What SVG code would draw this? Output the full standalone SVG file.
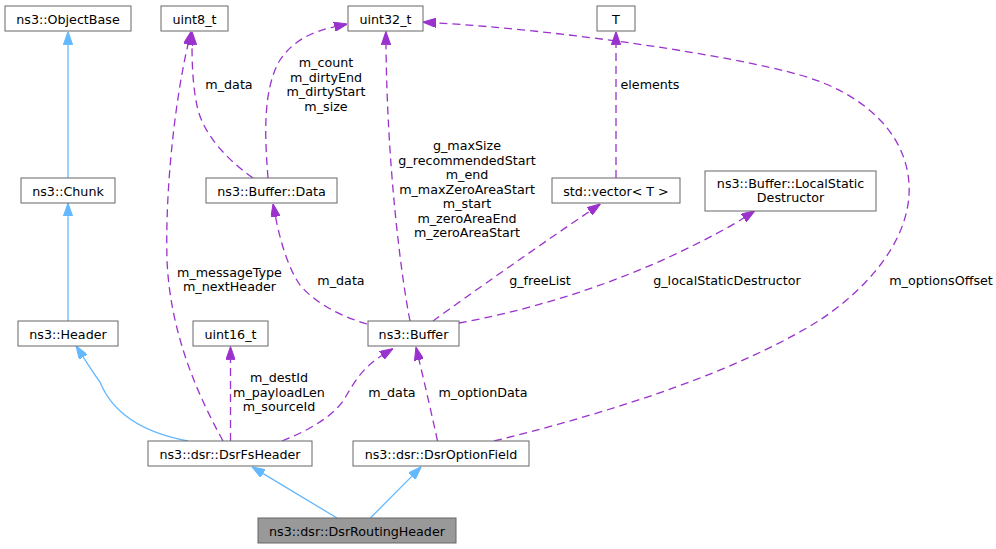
<svg xmlns="http://www.w3.org/2000/svg" width="996" height="549" viewBox="0 0 996 549">
<style>
.n rect{fill:#ffffff;stroke:#666666;stroke-width:1}
.n.root rect{fill:#999999}
text{font-family:"DejaVu Sans","Liberation Sans",sans-serif;font-size:12.7px;fill:#000000}
.n text{text-anchor:middle}
.lbl{text-anchor:middle}
.inh{fill:none;stroke:#63b8ff;stroke-width:1.3;marker-end:url(#ai)}
.mem{fill:none;stroke:#9a32cd;stroke-width:1.3;stroke-dasharray:8,5;marker-end:url(#am)}
</style>
<defs>
<marker id="ai" viewBox="0 0 13.3 9.34" refX="0" refY="4.67" markerWidth="13.3" markerHeight="9.34" markerUnits="userSpaceOnUse" orient="auto">
<path d="M0,0 L13.3,4.67 L0,9.34 Z" fill="#63b8ff" stroke="#63b8ff" stroke-width="1"/>
</marker>
<marker id="am" viewBox="0 0 13.3 9.34" refX="0" refY="4.67" markerWidth="13.3" markerHeight="9.34" markerUnits="userSpaceOnUse" orient="auto">
<path d="M0,0 L13.3,4.67 L0,9.34 Z" fill="#9a32cd" stroke="#9a32cd" stroke-width="1"/>
</marker>
</defs>

<g id="edges">
<path class="inh" d="M68,178 L68,44.8"/>
<path class="inh" d="M68,321 L68,216.3"/>
<path class="inh" d="M188,441 C140,432 112,412 100,382 C94,374 89,366 83.2,357"/>
<path class="inh" d="M337,518 L263.2,473.6"/>
<path class="inh" d="M370.4,518 L412,476.1"/>

<path class="mem" d="M223,441 C195,390 170,330 167,260 C165,190 175,100 188,44.5"/>
<path class="mem" d="M253,178 C225,158 205,135 198,110 C193,90 192,65 192,44.8"/>
<path class="mem" d="M268,178 C265,140 262,90 280,60 C292,42 310,32 334.4,26.8"/>
<path class="mem" d="M410,321 C400,270 387,160 386,44.8"/>
<path class="mem" d="M367,324 C340,316 315,303 300,285 C288,268 280,240 275.5,216.7"/>
<path class="mem" d="M433,321 C470,294 540,245 589.5,211.4"/>
<path class="mem" d="M459,323 C520,312 600,290 680,252 C705,240 728,228 743.7,218"/>
<path class="mem" d="M616,178 L616,44.8"/>
<path class="mem" d="M494,441 C620,410 740,370 820,320 C865,290 906,245 909,195 C912,140 870,95 800,75 C730,55 560,30 436.2,22.9"/>
<path class="mem" d="M230.5,441 L230.5,359.8"/>
<path class="mem" d="M282,441 C310,430 335,415 345,398 C355,380 365,366 381.8,355.5"/>
<path class="mem" d="M437.5,441 C433,420 425,385 419,359.9"/>

<text class="lbl" x="229" y="89">m_data</text>
<text class="lbl" x="326" y="67">m_count</text>
<text class="lbl" x="326" y="81.5">m_dirtyEnd</text>
<text class="lbl" x="326" y="96">m_dirtyStart</text>
<text class="lbl" x="326" y="110.5">m_size</text>
<text class="lbl" x="650" y="89">elements</text>
<text class="lbl" x="467" y="150">g_maxSize</text>
<text class="lbl" x="467" y="164.5">g_recommendedStart</text>
<text class="lbl" x="467" y="179">m_end</text>
<text class="lbl" x="467" y="193.5">m_maxZeroAreaStart</text>
<text class="lbl" x="467" y="208">m_start</text>
<text class="lbl" x="467" y="222.5">m_zeroAreaEnd</text>
<text class="lbl" x="467" y="237">m_zeroAreaStart</text>
<text class="lbl" x="229.5" y="277">m_messageType</text>
<text class="lbl" x="229.5" y="291">m_nextHeader</text>
<text class="lbl" x="341" y="284.5">m_data</text>
<text class="lbl" x="540" y="284.5">g_freeList</text>
<text class="lbl" x="727" y="284.5">g_localStaticDestructor</text>
<text class="lbl" x="941" y="284.5">m_optionsOffset</text>
<text class="lbl" x="279" y="382">m_destId</text>
<text class="lbl" x="279" y="396.5">m_payloadLen</text>
<text class="lbl" x="279" y="411">m_sourceId</text>
<text class="lbl" x="392" y="396.5">m_data</text>
<text class="lbl" x="483" y="396.5">m_optionData</text>
</g>

<g id="node-objectbase" class="n"><rect x="5" y="6" width="126" height="25"/><text x="68" y="23.5">ns3::ObjectBase</text></g>
<g id="node-uint8" class="n"><rect x="161" y="6" width="67" height="25"/><text x="194.5" y="23.5">uint8_t</text></g>
<g id="node-uint32" class="n"><rect x="348" y="6" width="75" height="25"/><text x="385.5" y="23.5">uint32_t</text></g>
<g id="node-T" class="n"><rect x="597" y="6" width="38" height="25"/><text x="616" y="23.5">T</text></g>
<g id="node-chunk" class="n"><rect x="21" y="178" width="94" height="25"/><text x="68" y="195.5">ns3::Chunk</text></g>
<g id="node-bufferdata" class="n"><rect x="206" y="178" width="131" height="25"/><text x="271.5" y="195.5">ns3::Buffer::Data</text></g>
<g id="node-vector" class="n"><rect x="552" y="178" width="128" height="25"/><text x="616" y="195.5">std::vector&lt; T &gt;</text></g>
<g id="node-localstatic" class="n"><rect x="705" y="171" width="171" height="40"/><text x="790.5" y="187.5">ns3::Buffer::LocalStatic</text><text x="790.5" y="202">Destructor</text></g>
<g id="node-header" class="n"><rect x="18" y="321" width="100" height="25"/><text x="68" y="338.5">ns3::Header</text></g>
<g id="node-uint16" class="n"><rect x="193" y="321" width="75" height="25"/><text x="230.5" y="338.5">uint16_t</text></g>
<g id="node-buffer" class="n"><rect x="368" y="321" width="91" height="25"/><text x="413.5" y="338.5">ns3::Buffer</text></g>
<g id="node-dsrfsheader" class="n"><rect x="148" y="441" width="164" height="25"/><text x="230" y="458.5">ns3::dsr::DsrFsHeader</text></g>
<g id="node-dsroptionfield" class="n"><rect x="353" y="441" width="176" height="25"/><text x="441" y="458.5">ns3::dsr::DsrOptionField</text></g>
<g id="node-dsrroutingheader" class="n root"><rect x="258" y="518" width="198" height="25"/><text x="357" y="535.5">ns3::dsr::DsrRoutingHeader</text></g>
</svg>
